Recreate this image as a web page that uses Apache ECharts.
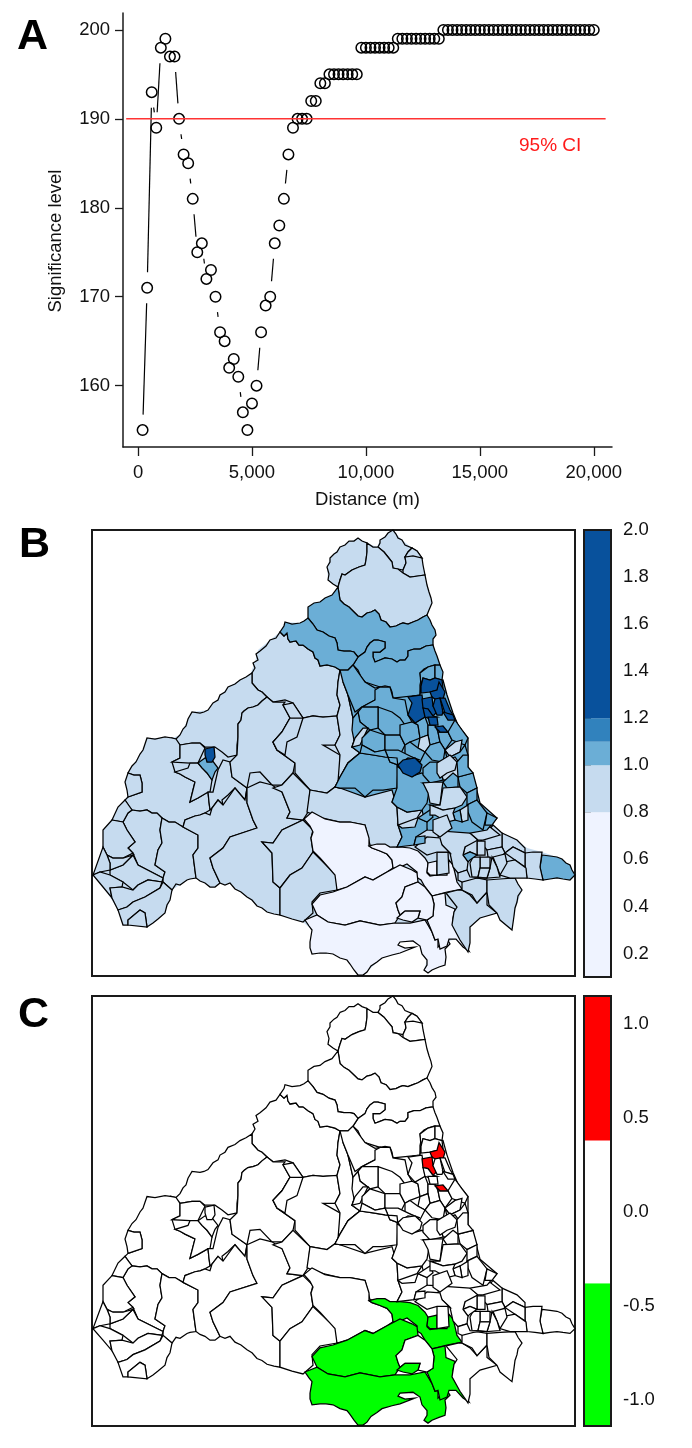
<!DOCTYPE html>
<html>
<head>
<meta charset="utf-8">
<script src="https://cdn.jsdelivr.net/npm/echarts@6/dist/echarts.min.js"></script>
<style>
html,body{margin:0;padding:0;background:#fff}
#chart{width:692px;height:1448px}
</style>
</head>
<body>
<div id="chart"></div>
<script>
// panel A
const distanceM = [200,400,600,800,1000,1200,1400,1600,1800,2000,2200,2400,2600,2800,3000,3200,3400,3600,3800,4000,
  4200,4400,4600,4800,5000,5200,5400,5600,5800,6000,6200,6400,6600,6800,7000,7200,7400,7600,7800,8000,
  8200,8400,8600,8800,9000,9200,9400,9600,9800,10000,10200,10400,10600,10800,11000,11200,11400,11600,11800,12000,
  12200,12400,12600,12800,13000,13200,13400,13600,13800,14000,14200,14400,14600,14800,15000,15200,15400,15600,15800,16000,
  16200,16400,16600,16800,17000,17200,17400,17600,17800,18000,18200,18400,18600,18800,19000,19200,19400,19600,19800,20000];
const significance = [155,171,193,189,198,199,197,197,190,186,185,181,175,176,172,173,170,166,165,162,
  163,161,157,155,158,160,166,169,170,176,178,181,186,189,190,190,190,192,192,194,
  194,195,195,195,195,195,195,195,198,198,198,198,198,198,198,198,199,199,199,199,
  199,199,199,199,199,199,200,200,200,200,200,200,200,200,200,200,200,200,200,200,
  200,200,200,200,200,200,200,200,200,200,200,200,200,200,200,200,200,200,200,200];
const ciLevel = 190;
const ciExtent = [-520,20520];
const distanceTicks = [0,5000,10000,15000,20000];
const significanceTicks = [160,170,180,190,200];

// colour bars
const riskTicks = [0.2,0.4,0.6,0.8,1.0,1.2,1.4,1.6,1.8,2.0];
const riskBands = [[0.1,0.8],[0.8,1.0],[1.0,1.1],[1.1,1.2],[1.2,2.0]];
const riskColors = ['#eff3ff','#c6dbef','#6baed6','#3182bd','#08519c'];
const clusterTicks = [-1.0,-0.5,0.0,0.5,1.0];
const clusterBands = [[-1.14,-0.38],[-0.38,0.38],[0.38,1.15]];
const clusterColors = ['#00ff00','#ffffff','#ff0000'];

// map regions, each row: relative risk, cluster (-1/0/1), then x,y map grid readings
const landRegions = [
  [0.9,0, 393,530,402,540,412,548,422,558,425,575,429,592,432,603,427,615,435,630,433,645,439,662,443,672,442,682,447,695,453,713,458,725,468,738,468,755,468,767,475,783,480,803,497,818,492,825,502,833,517,840,527,848,542,852,557,857,570,865,575,875,570,880,557,878,543,880,528,878,515,878,522,890,515,910,512,930,500,920,497,913,480,918,470,927,468,952,463,947,456,939,449,941,450,944,445,949,445,965,432,970,424,970,427,960,422,954,420,946,413,941,400,942,398,945,405,948,415,947,400,953,382,958,363,975,358,975,347,960,333,954,320,953,312,954,310,942,312,930,303,922,280,915,267,912,247,897,230,883,220,883,210,887,197,878,187,880,172,890,170,900,165,913,147,927,128,925,123,925,118,910,110,897,100,883,93,875,103,847,103,830,112,820,125,800,128,795,125,782,128,773,143,750,147,738,172,738,180,735,192,712,208,710,228,687,250,675,255,662,258,650,280,632,285,622,300,623,308,618,308,607,332,595,338,587,328,580,327,567,330,558,340,547,358,538,367,543,377,547,380,540]
];
const westRegions = [
  [0.9,0, 252,673,255,668,253,663,258,660,256,654,260,651,266,646,270,640,276,638,280,632,284,636,287,633,288,639,290,642,296,641,299,645,303,645,308,649,313,652,315,658,318,660,320,666,327,665,335,667,340,670,338,682,337,695,340,705,337,716,323,717,313,716,303,718,293,703,285,700,273,702,267,697,262,692,258,690,252,683],
  [0.9,0, 172,738,176,739,180,735,183,729,186,726,188,719,192,712,200,713,204,712,208,710,213,703,218,700,220,695,225,692,228,687,235,684,240,680,246,677,252,673,252,678,252,683,258,690,262,692,267,697,262,701,258,705,253,707,248,708,244,711,242,713,241,720,238,724,238,728,238,737,237,745,237,755,228,757,222,752,215,747,205,747,200,743,192,743,186,744,180,745],
  [0.9,0, 143,750,145,744,147,738,155,739,165,737,172,738,176,739,180,745,180,752,180,758,172,762,175,772,180,774,185,777,195,782,193,790,190,802,198,798,208,792,209,802,210,810,205,813,200,815,195,816,185,820,183,827,175,822,169,822,162,818,157,813,152,813,147,810,140,811,132,810,129,806,125,800,128,797,142,792,142,783,140,775,134,775,128,773,132,766,136,762,140,754],
  [0.9,0, 128,773,134,775,140,775,142,783,142,792,128,797,127,790,125,782],
  [0.9,0, 180,745,186,744,192,743,200,743,205,748,198,763,190,763,172,762,180,758,180,752],
  [0.9,0, 198,763,207,773,212,780,210,792,208,792,198,798,190,802,193,790,195,782,185,777,180,774,175,772,188,768,190,763],
  [0.9,0, 210,810,209,802,208,792,213,792,218,770,223,760,230,762,232,777,247,788,245,800,235,788,228,795,222,800,223,805,218,800,212,808],
  [0.9,0, 237,755,238,737,238,728,238,724,241,720,242,713,244,711,248,708,253,707,258,705,262,701,267,697,273,702,285,702,283,705,290,718,282,732,273,742,277,750,295,763,293,773,282,785,272,785,260,772,250,773,247,788,232,777,230,762],
  [0.9,0, 293,703,303,718,313,716,323,717,337,716,340,735,335,745,323,745,340,755,340,778,335,787,327,793,310,790,295,773,295,763,277,750,273,742,282,732,290,718,283,705],
  [0.9,0, 297,718,303,718,297,737,287,742,285,755,277,750,273,742,282,732,290,718],
  [0.9,0, 340,670,347,672,343,682,348,695,353,718,355,738,352,747,360,753,348,763,340,777,338,782,340,755,335,745,340,735,337,716,340,705,337,695,338,682],
  [0.9,0, 132,810,140,811,147,810,152,813,157,813,162,818,160,830,162,843,158,850,155,865,165,872,163,878,138,865,133,853,128,848,135,842,127,830,123,822,128,813],
  [0.9,0, 162,818,169,822,175,822,183,827,198,835,198,848,193,855,196,878,190,879,187,880,180,885,176,884,172,890,163,882,163,878,165,872,155,865,158,850,162,843,160,830],
  [0.9,0, 183,827,185,820,195,816,200,815,205,813,210,815,212,808,218,800,223,805,235,788,245,800,247,788,247,803,253,820,257,828,230,837,223,848,210,858,213,868,220,883,215,887,210,887,205,883,200,881,196,878,193,855,198,848,198,835],
  [0.9,0, 247,788,260,782,272,785,282,792,290,812,287,818,303,820,282,830,273,843,262,842,272,853,273,882,280,888,280,915,274,914,267,912,262,908,257,906,252,900,247,897,241,892,235,889,230,883,225,885,220,883,213,868,210,858,223,848,230,837,257,828,253,820,247,803],
  [0.9,0, 273,788,282,785,293,773,310,790,308,812,303,820,287,818,290,812,282,792],
  [0.9,0, 303,820,313,830,311,838,313,852,302,868,290,875,280,888,273,882,272,853,262,842,273,843,282,830],
  [0.9,0, 313,852,328,867,337,875,337,890,320,893,312,902,313,913,303,922,292,919,280,915,280,888,290,875,302,868],
  [0.9,0, 310,790,327,793,335,787,340,788,355,788,365,797,373,790,383,790,397,788,392,802,397,807,398,825,402,837,397,847,383,848,370,845,368,837,365,825,350,822,340,822,323,818,307,812],
  [0.9,0, 125,800,132,810,128,813,123,822,112,820,118,807],
  [0.9,0, 112,820,123,822,127,830,135,842,128,848,133,853,123,858,113,858,107,855,103,847,103,830],
  [0.9,0, 133,855,138,865,163,878,162,882,148,880,138,885,133,890,123,882,110,875,110,870,123,865],
  [0.9,0, 107,855,113,858,123,858,133,855,123,865,110,870,110,863],
  [0.9,0, 103,847,107,855,110,863,110,870,100,872,93,875],
  [0.9,0, 93,875,100,872,110,875,123,882,122,887,110,888,112,898,103,887],
  [0.9,0, 110,888,122,887,133,890,138,885,148,880,162,882,160,888,145,897,133,902,127,907,118,910,112,898],
  [0.9,0, 118,910,127,907,133,902,145,897,160,888,163,882,172,890,171,895,170,900,167,905,165,913,158,919,153,923,147,927,145,913,140,910,128,920,128,925,123,925],
  [0.9,0, 128,920,140,910,145,913,147,927,128,925],
  [1.05,0, 198,763,205,758,212,760,218,768,215,772,212,780,207,773,202,768],
  [1.5,0, 205,749,214,747,215,757,212,762,207,762,205,755]
];
const northRegions = [
  [0.9,0, 340,547,345,545,349,541,354,541,358,538,362,541,367,543,367,552,366,560,365,565,359,567,352,570,345,575,342,574,340,580,338,587,333,584,328,580,329,574,327,567,330,562,330,558,334,554,337,552],
  [0.9,0, 378,547,380,543,380,540,385,537,388,533,393,530,396,534,398,538,402,540,405,545,412,548,408,552,405,557,406,563,403,570,398,569,393,568,392,562,388,557,384,552],
  [0.9,0, 405,557,412,548,417,551,422,558,423,565,425,575,418,576,410,577,403,573,403,570,406,563],
  [0.9,0, 412,548,417,551,422,558,413,556,405,557,408,552],
  [0.9,0, 340,600,344,604,349,607,355,613,358,616,362,617,367,613,371,612,375,610,379,614,381,620,386,622,390,627,396,626,400,624,403,623,408,624,413,622,418,620,423,617,427,615,429,610,432,603,431,598,429,592,427,585,425,575,418,576,410,577,403,573,398,569,393,568,392,562,388,557,384,552,378,547,373,547,367,543,367,552,366,560,365,565,359,567,352,570,345,575,342,574,340,580,338,587],
  [1.05,0, 340,600,344,604,349,607,355,613,358,616,362,617,367,613,371,612,375,610,379,614,381,620,386,622,390,627,396,626,400,624,403,623,408,624,413,622,418,620,423,617,427,615,430,620,432,625,435,630,436,635,433,639,433,645,426,646,420,649,414,649,408,651,408,656,405,660,400,660,397,662,392,659,385,658,380,660,375,662,373,657,373,652,380,652,385,648,385,642,378,640,374,640,370,643,367,647,365,652,358,657,354,652,350,651,344,651,338,650,337,643,335,638,329,636,323,632,317,630,313,624,308,618,308,612,308,607,314,603,320,602,325,598,332,595,338,587],
  [1.05,0, 408,651,414,649,420,649,426,646,433,645,435,651,437,656,439,662,440,665,434,665,428,667,424,669,420,673,421,680,420,685,420,695,413,696,405,700,399,699,393,698,392,692,390,687,385,686,380,687,375,688,370,685,365,682,361,677,358,670,353,665,358,657,365,652,367,647,370,643,374,640,378,640,385,642,385,648,380,652,373,652,373,657,375,662,380,660,385,658,392,659,397,662,400,660,405,660,408,656],
  [1.05,0, 280,632,284,626,285,622,292,624,300,623,304,621,308,618,313,624,317,630,323,632,329,636,335,638,337,643,338,650,344,651,350,651,354,652,358,657,353,665,348,670,340,670,335,667,327,665,320,666,318,660,315,658,313,652,308,649,303,645,299,645,296,641,290,642,288,639,287,633,284,636]
];
const southRegions = [
  [0.6,0, 304,819,310,826,313,832,311,838,313,851,320,858,328,867,335,875,337,890,347,887,365,877,373,880,387,872,393,868,392,860,387,854,380,851,372,848,369,846,369,838,365,825,350,822,340,822,325,819,312,812],
  [0.6,-1, 369,846,377,844,385,844,390,847,400,847,410,848,418,851,425,858,428,863,427,873,430,876,437,875,447,875,449,860,453,865,455,873,457,882,462,889,447,892,432,896,425,887,421,880,416,877,417,872,407,864,398,868,393,868,392,860,387,854,380,851,372,848],
  [0.6,-1, 312,904,320,895,333,892,347,887,365,877,373,880,387,872,400,865,412,870,417,873,418,882,405,887,402,897,396,903,398,910,400,915,395,923,380,925,360,921,345,925,328,922,317,915],
  [0.6,-1, 305,920,317,915,328,922,345,925,360,921,380,925,395,923,410,923,425,920,432,932,435,940,438,939,438,947,447,939,450,944,445,949,446,957,445,965,439,967,432,970,428,973,424,970,427,965,427,960,422,954,420,946,413,941,400,942,398,945,405,948,415,947,400,953,392,955,382,958,377,962,371,966,367,972,363,975,358,975,354,970,350,964,347,960,340,958,333,954,326,953,320,953,312,954,310,948,310,942,311,936,312,930,309,926],
  [0.6,-1, 432,896,445,893,446,905,455,909,453,918,453,925,460,935,469,951,463,947,456,939,449,939,447,946,440,949,438,939,435,940,432,932,427,920,433,916,434,904],
  [0.6,0, 418,882,425,887,432,896,434,904,433,916,427,920,418,918,420,911,405,911,400,915,398,910,396,903,402,897,405,887],
  [0.6,-1, 397,918,405,911,420,911,418,918,412,922,403,920],
  [0.6,-1, 428,863,437,861,437,875,430,875,427,872],
  [0.9,0, 446,893,458,890,462,890,470,895,477,903,487,892,487,905,497,913,480,918,470,927,470,943,468,952,460,940,452,925,454,912,457,907],
  [0.9,0, 462,880,477,878,487,880,487,892,477,903,472,895,462,890],
  [0.9,0, 487,880,500,879,515,878,518,884,522,890,518,896,517,902,515,908,514,916,512,930,500,920,497,913,489,905,487,892],
  [1.05,0, 542,855,550,856,557,857,562,859,566,863,570,865,572,870,575,875,570,880,563,879,557,878,550,879,543,880,541,873,540,867],
  [0.9,0, 525,853,533,852,542,852,540,867,543,880,535,879,527,878,525,865],
  [0.9,0, 502,833,517,840,525,848,525,853,513,847,505,853,502,847],
  [0.9,0, 483,838,493,825,502,833,502,847,487,850,480,842],
  [0.9,0, 477,841,485,841,485,855,477,855],
  [0.9,0, 487,850,502,847,505,853,497,860,488,857],
  [0.9,0, 505,853,513,847,525,853,525,867,515,860],
  [0.9,0, 500,863,515,860,526,868,527,878,510,878,500,875],
  [0.9,0, 493,857,505,854,507,863,500,875,497,867],
  [0.9,0, 480,857,490,857,490,868,480,868],
  [0.9,0, 492,857,497,867,500,877,487,878,490,868],
  [0.9,0, 473,857,480,857,480,868,478,877,472,877,470,863],
  [0.9,0, 480,868,490,868,487,878,478,877],
  [0.9,0, 468,840,477,840,477,855,470,852,463,855,465,847],
  [1.05,0, 463,855,470,852,477,855,470,860,468,862],
  [0.9,0, 438,837,447,822,463,828,472,822,470,833,478,840,465,847,463,855,468,862,467,870,458,873,453,867,450,853,442,845],
  [0.9,0, 472,822,480,830,490,827,500,835,483,840,478,840,470,833],
  [0.9,0, 458,873,467,870,470,877,487,878,477,878,462,882,458,880],
  [0.9,0, 437,852,448,852,449,873,437,875],
  [0.9,0, 415,847,427,837,440,838,442,845,450,853,447,852,437,852,427,855]
];
const denseRegions = [
  [1.05,0, 345,680,365,682,380,687,393,698,420,695,421,686,443,680,447,695,453,713,458,725,468,738,468,767,475,783,480,803,497,818,487,830,470,833,427,830,422,810,397,807,392,790,365,797,340,788,335,787,348,763,360,753,352,747,355,738,353,718,348,695],
  [0.9,0, 397,807,407,812,422,810,417,818,398,825],
  [1.05,0, 398,825,402,828,415,827,418,818,427,822,427,830,416,837,414,845,397,847,402,837],
  [1.05,0, 416,837,425,836,425,843,414,845],
  [1.05,0, 418,818,430,810,433,817,427,822],
  [1.05,0, 335,787,340,777,348,763,360,753,373,755,385,757,397,758,398,767,397,788,383,790,373,790,365,797,355,788,340,788],
  [1.05,0, 397,758,398,767,405,772,412,776,422,773,432,782,423,783,430,785,427,803,422,810,407,812,397,807,392,802,397,788],
  [1.05,0, 340,670,348,670,353,665,365,682,375,688,380,687,375,700,362,707,355,712,348,695,343,682],
  [1.05,0, 375,690,380,687,390,687,393,698,405,700,408,715,412,722,405,725,397,718,388,718,378,707,362,707,375,700],
  [1.05,0, 378,707,392,712,400,718,405,725,400,735,385,735,378,728],
  [1.05,0, 362,707,378,707,378,728,370,730,360,722,358,712],
  [1.05,0, 353,718,358,712,360,722,370,730,362,738,355,745,352,730],
  [0.9,0, 355,738,363,728,368,728,360,745,352,747],
  [1.05,0, 370,730,385,735,385,750,375,752,362,745,362,738],
  [1.05,0, 385,735,400,735,405,745,400,755,385,750],
  [1.05,0, 400,725,412,722,418,725,420,738,410,742,405,745,400,735],
  [1.05,0, 415,723,425,717,428,725,428,735,420,738,418,725],
  [1.05,0, 428,725,435,725,438,732,440,742,430,745,428,735],
  [1.05,0, 438,732,448,732,452,740,445,750,440,742],
  [1.05,0, 455,720,462,730,468,738,465,745,452,740,448,732],
  [0.9,0, 420,738,428,735,430,745,425,752,418,748],
  [1.05,0, 410,742,418,748,425,752,420,762,412,757,405,755,405,745],
  [1.05,0, 430,745,440,742,445,750,443,762,432,760,425,752],
  [0.9,0, 445,750,455,742,462,740,460,752,450,757],
  [1.05,0, 445,750,450,757,460,752,465,745,468,755,467,767,455,765,448,762],
  [0.9,0, 440,767,448,760,455,757,462,767,463,778,443,780],
  [1.05,0, 423,768,430,762,443,762,440,767,443,780,430,783,423,775],
  [1.05,0, 398,750,412,757,420,760,408,758,398,765,390,762,385,750],
  [1.05,0, 375,752,385,750,390,762,398,765,398,767,397,758,385,757,373,755,360,753,362,745],
  [0.9,0, 437,763,450,755,457,762,455,770,447,773,440,778,437,773],
  [1.05,0, 458,777,473,773,477,788,467,793,460,787],
  [1.05,0, 453,773,458,777,458,787,447,788,443,782],
  [0.9,0, 423,783,437,782,443,782,442,788,440,805,430,803,428,793],
  [0.9,0, 443,788,460,787,467,797,462,805,455,808,443,810,430,805,440,805],
  [1.05,0, 467,793,477,788,477,800,467,805],
  [1.05,0, 467,805,477,800,487,813,483,830,472,822,468,812],
  [1.05,0, 487,813,497,818,492,825,485,825],
  [0.9,0, 460,810,468,805,468,820,462,822],
  [1.05,0, 453,813,460,810,462,822,455,820],
  [0.9,0, 430,805,443,810,455,808,453,813,455,820,447,822,435,815,430,815],
  [0.9,0, 433,820,447,815,452,828,440,837,433,832],
  [1.05,0, 463,755,468,755,468,767,473,773,458,777,457,762],
  [1.05,0, 420,673,428,667,435,665,435,678,430,680,423,678,421,686],
  [1.05,0, 435,665,440,665,443,672,442,680,435,678]
];
const coreRegions = [
  [1.5,0, 421,686,423,678,430,680,435,678,442,680,443,688,437,690,430,692,421,693],
  [1.5,1, 430,692,437,690,439,682,442,687,445,692,443,699,435,699,432,697],
  [1.5,0, 408,697,422,695,423,702,425,717,415,723,408,715,412,703],
  [1.5,1, 422,699,432,697,433,706,438,711,433,716,428,709,423,708],
  [1.5,0, 423,708,428,709,433,716,437,717,428,718,425,717],
  [1.5,0, 435,699,440,698,443,712,442,715,437,715,433,706],
  [1.5,0, 440,698,445,698,450,710,453,715,445,713],
  [1.5,0, 428,717,437,717,438,725,430,725],
  [1.5,1, 435,727,443,726,448,732,440,732],
  [1.5,0, 443,712,453,715,455,720,448,720],
  [1.5,0, 398,765,403,760,415,758,422,765,420,772,412,777,403,773]
];
const mapRegions = [...westRegions, ...northRegions, ...southRegions, ...denseRegions, ...coreRegions];

const chartDom = document.getElementById('chart');
const myChart = echarts.init(chartDom);
const fontName = '"Liberation Sans", Arial, sans-serif';
const inkColor = '#1a1a1a';

function bandColor(value, bands, colors) {
  for (let i = 0; i < bands.length; i++) {
    if (value >= bands[i][0] && value < bands[i][1]) return colors[i];
  }
  return colors[colors.length - 1];
}

// polygons go through the hidden value axes of their grid
function renderRegion(rows, colorColumn, bands, colors, stroke) {
  return function (params, api) {
    const row = rows[params.dataIndex];
    const points = [];
    for (let i = 2; i < row.length; i += 2) {
      points.push(api.coord([row[i], row[i + 1]]));
    }
    return {
      type: 'polygon',
      shape: { points: points },
      style: { fill: bandColor(row[colorColumn], bands, colors), stroke: stroke, lineWidth: 1.25 }
    };
  };
}

function renderBand(colors) {
  return function (params, api) {
    const p0 = api.coord([0, api.value(0)]);
    const p1 = api.coord([1, api.value(1)]);
    return {
      type: 'rect',
      shape: { x: p0[0], y: p1[1], width: p1[0] - p0[0], height: p0[1] - p1[1] },
      style: { fill: colors[params.dataIndex] }
    };
  };
}

// R type="b" look: line stops short of the points
function renderGappedLine(params, api) {
  const i = params.dataIndex;
  if (i >= distanceM.length - 1) return null;
  const a = api.coord([distanceM[i], significance[i]]);
  const b = api.coord([distanceM[i + 1], significance[i + 1]]);
  const gap = 15.5;
  const dx = b[0] - a[0], dy = b[1] - a[1];
  const len = Math.sqrt(dx * dx + dy * dy);
  if (len <= gap * 2) return null;
  return {
    type: 'line',
    shape: {
      x1: a[0] + dx / len * gap, y1: a[1] + dy / len * gap,
      x2: b[0] - dx / len * gap, y2: b[1] - dy / len * gap
    },
    style: { stroke: '#000', lineWidth: 1.2 }
  };
}

function hiddenAxis(gridIndex, min, max, inverse) {
  return { type: 'value', gridIndex: gridIndex, min: min, max: max, inverse: !!inverse, show: false, splitLine: { show: false } };
}

function barAxis(gridIndex, min, max, ticks) {
  return {
    type: 'value', gridIndex: gridIndex, position: 'right', min: min, max: max,
    axisLine: { show: false },
    axisTick: { show: true, length: 7, customValues: ticks, lineStyle: { color: inkColor, width: 1.3 } },
    axisLabel: { show: true, margin: 12, customValues: ticks, fontSize: 18.5, fontFamily: fontName, color: '#111', formatter: (v) => v.toFixed(1) },
    splitLine: { show: false }
  };
}

function frameSeries(xAxisIndex, yAxisIndex, min, max) {
  return {
    type: 'custom', xAxisIndex: xAxisIndex, yAxisIndex: yAxisIndex, silent: true, z: 5,
    data: [[min, max]],
    renderItem: (params, api) => {
      const p0 = api.coord([0, api.value(0)]);
      const p1 = api.coord([1, api.value(1)]);
      return {
        type: 'rect',
        shape: { x: p0[0], y: p1[1], width: p1[0] - p0[0], height: p0[1] - p1[1] },
        style: { fill: 'none', stroke: inkColor, lineWidth: 2 }
      };
    }
  };
}

function mapSeries(axisIndex, rows, colorColumn, bands, colors, z, stroke) {
  return {
    type: 'custom', xAxisIndex: axisIndex, yAxisIndex: axisIndex, silent: true, z: z,
    data: rows.map((r) => [r[2], r[3]]), encode: { x: 0, y: 1 },
    renderItem: renderRegion(rows, colorColumn, bands, colors, stroke)
  };
}

const pointData = distanceM.map((d, i) => [d, significance[i]]);

const option = {
  animation: false,
  backgroundColor: '#fff',
  textStyle: { fontFamily: fontName },
  grid: [
    { left: 123, top: 13, width: 489, height: 434 },
    { left: 92, top: 530, width: 483, height: 446, show: true, backgroundColor: '#fff', borderColor: inkColor, borderWidth: 2 },
    { left: 584, top: 530, width: 27, height: 447 },
    { left: 92, top: 996, width: 483, height: 430, show: true, backgroundColor: '#fff', borderColor: inkColor, borderWidth: 2 },
    { left: 584, top: 996, width: 27, height: 430 }
  ],
  xAxis: [
    {
      type: 'value', gridIndex: 0, min: -660, max: 20800,
      name: 'Distance (m)', nameLocation: 'middle', nameGap: 43,
      nameTextStyle: { fontSize: 18.5, fontFamily: fontName, color: '#111' },
      axisLine: { show: true, onZero: false, lineStyle: { color: inkColor, width: 1.5 } },
      axisTick: { show: true, length: 9, customValues: distanceTicks, lineStyle: { color: inkColor, width: 1.3 } },
      axisLabel: { show: true, margin: 16, customValues: distanceTicks, fontSize: 18.5, fontFamily: fontName, color: '#111', formatter: (v) => v.toLocaleString('en-US') },
      splitLine: { show: false }
    },
    hiddenAxis(1, 92, 575),
    hiddenAxis(2, 0, 1),
    hiddenAxis(3, 92, 575),
    hiddenAxis(4, 0, 1)
  ],
  yAxis: [
    {
      type: 'value', gridIndex: 0, min: 153.1, max: 201.9,
      axisLine: { show: true, onZero: false, lineStyle: { color: inkColor, width: 1.5 } },
      axisTick: { show: true, length: 8, customValues: significanceTicks, lineStyle: { color: inkColor, width: 1.3 } },
      axisLabel: { show: true, margin: 13, customValues: significanceTicks, fontSize: 18.5, fontFamily: fontName, color: '#111' },
      splitLine: { show: false }
    },
    hiddenAxis(1, 530, 976, true),
    barAxis(2, 0.1, 2.0, riskTicks),
    hiddenAxis(3, 530, 976, true),
    barAxis(4, -1.14, 1.15, clusterTicks)
  ],
  series: [
    { type: 'custom', xAxisIndex: 0, yAxisIndex: 0, silent: true, data: pointData, renderItem: renderGappedLine },
    {
      type: 'scatter', xAxisIndex: 0, yAxisIndex: 0, silent: true, data: pointData,
      symbol: 'circle', symbolSize: 10.5,
      itemStyle: { color: 'rgba(255,255,255,0)', borderColor: '#000', borderWidth: 1.5, opacity: 1 }
    },
    {
      type: 'line', xAxisIndex: 0, yAxisIndex: 0, silent: true, z: 4, symbol: 'none',
      data: ciExtent.map((x) => [x, ciLevel]),
      lineStyle: { color: '#ff3333', width: 1.5 }
    },
    mapSeries(1, landRegions, 0, riskBands, riskColors, 2, 'none'),
    mapSeries(1, mapRegions, 0, riskBands, riskColors, 3, '#000'),
    { type: 'custom', xAxisIndex: 2, yAxisIndex: 2, silent: true, data: riskBands, renderItem: renderBand(riskColors) },
    frameSeries(2, 2, 0.1, 2.0),
    mapSeries(3, landRegions, 1, clusterBands, clusterColors, 2, 'none'),
    mapSeries(3, mapRegions, 1, clusterBands, clusterColors, 3, '#000'),
    { type: 'custom', xAxisIndex: 4, yAxisIndex: 4, silent: true, data: clusterBands, renderItem: renderBand(clusterColors) },
    frameSeries(4, 4, -1.14, 1.15)
  ],
  graphic: [
    { type: 'text', left: 17, top: 16, style: { text: 'A', fontSize: 43, fontWeight: 'bold', fontFamily: fontName, fill: '#000' } },
    { type: 'text', left: 19, top: 524, style: { text: 'B', fontSize: 43, fontWeight: 'bold', fontFamily: fontName, fill: '#000' } },
    { type: 'text', left: 18, top: 994, style: { text: 'C', fontSize: 43, fontWeight: 'bold', fontFamily: fontName, fill: '#000' } },
    { type: 'text', left: 519, top: 136, style: { text: '95% CI', fontSize: 19, fontFamily: fontName, fill: '#ff1a1a' } },
    { type: 'text', x: 56, y: 241, rotation: Math.PI / 2, style: { text: 'Significance level', fontSize: 18.5, fontFamily: fontName, fill: '#111', align: 'center', verticalAlign: 'middle' } }
  ]
};
myChart.setOption(option);
</script>
</body>
</html>
